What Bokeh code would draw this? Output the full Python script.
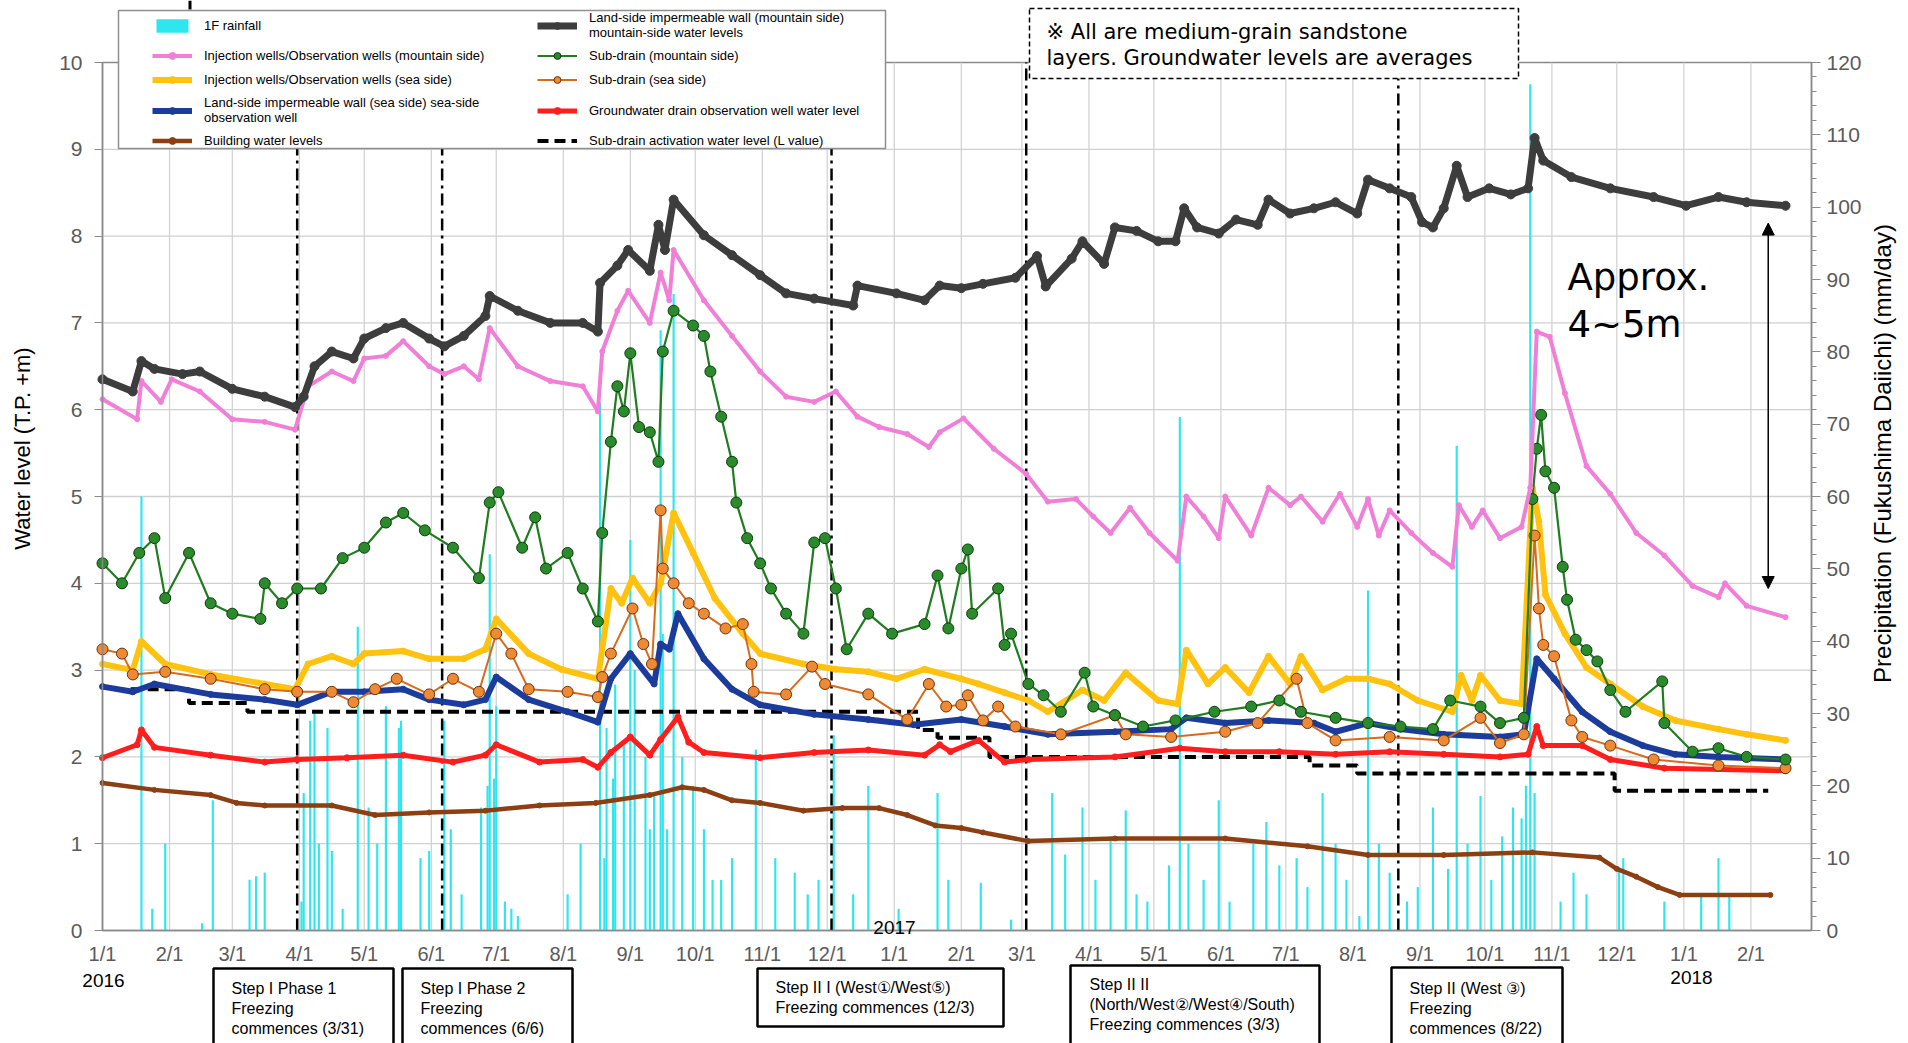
import math
import pandas as pd
from bokeh.plotting import figure
from bokeh.models import (Range1d, LinearAxis, DatetimeAxis, SingleIntervalTicker, FixedTicker,
                          Label, BoxAnnotation, Arrow, NormalHead, Legend, LegendItem)
from bokeh.embed import file_html
from bokeh.resources import INLINE

# ---------------- data ----------------
RAIN_DATES = ["2016-01-19", "2016-01-24", "2016-01-30", "2016-02-16", "2016-02-21", "2016-03-09", "2016-03-12",
              "2016-03-16", "2016-04-02", "2016-04-03", "2016-04-06", "2016-04-08", "2016-04-10", "2016-04-14",
              "2016-04-16", "2016-04-21", "2016-04-28", "2016-05-03", "2016-05-07", "2016-05-11", "2016-05-17",
              "2016-05-18", "2016-05-27", "2016-05-31", "2016-06-07", "2016-06-10", "2016-06-15", "2016-06-24",
              "2016-06-27", "2016-06-28", "2016-06-30", "2016-07-01", "2016-07-05", "2016-07-08", "2016-07-11",
              "2016-08-03", "2016-08-09", "2016-08-18", "2016-08-20", "2016-08-21", "2016-08-24", "2016-08-25",
              "2016-08-29", "2016-09-01", "2016-09-03", "2016-09-08", "2016-09-10", "2016-09-12", "2016-09-15",
              "2016-09-16", "2016-09-18", "2016-09-21", "2016-09-25", "2016-09-30", "2016-10-05", "2016-10-09",
              "2016-10-13", "2016-10-18", "2016-10-29", "2016-11-07", "2016-11-16", "2016-11-22", "2016-11-27",
              "2016-12-04", "2016-12-13", "2016-12-20", "2017-01-03", "2017-01-21", "2017-01-26", "2017-02-10",
              "2017-02-24", "2017-03-15", "2017-03-21", "2017-03-29", "2017-04-04", "2017-04-11", "2017-04-18",
              "2017-04-23", "2017-04-28", "2017-05-08", "2017-05-13", "2017-05-17", "2017-05-24", "2017-05-31",
              "2017-06-05", "2017-06-16", "2017-06-22", "2017-06-28", "2017-07-06", "2017-07-11", "2017-07-18",
              "2017-07-24", "2017-07-29", "2017-08-04", "2017-08-08", "2017-08-13", "2017-08-18", "2017-08-26",
              "2017-08-31", "2017-09-07", "2017-09-14", "2017-09-18", "2017-09-23", "2017-09-29", "2017-10-04",
              "2017-10-09", "2017-10-14", "2017-10-18", "2017-10-20", "2017-10-22", "2017-10-24", "2017-11-05",
              "2017-11-11", "2017-11-17", "2017-12-02", "2017-12-04", "2017-12-23", "2018-01-09", "2018-01-17",
              "2018-01-22"]
RAIN_MM = [60, 3, 12, 1, 18, 7, 7.5, 8, 4, 19, 29, 30, 12, 28, 11, 3, 42, 17, 12, 31, 28, 29, 10, 11, 29, 14, 5,
           17, 20, 52, 21, 31, 4, 3, 2, 5, 12, 73, 10, 28, 21, 34, 26, 54, 36, 24, 14, 19, 83, 41, 14, 88, 24, 20,
           14, 7, 7, 10, 25, 10, 8, 5, 7, 27, 5, 20, 3, 19, 7, 6.6, 1.5, 19, 10.5, 17, 7, 13, 16.6, 5, 4, 9, 71,
           12, 7, 18, 4, 12, 15, 9, 10, 6, 19, 12, 7, 2, 47, 12, 8, 4, 6, 17, 8.5, 67, 12, 18.6, 7, 13, 17, 15.5,
           20, 117, 19, 4, 8, 5, 8.5, 10, 4, 5, 10, 5]

GRAY_DATES = ["2016-01-01", "2016-01-15", "2016-01-19", "2016-01-25", "2016-02-07", "2016-02-15", "2016-03-01",
              "2016-03-16", "2016-03-30", "2016-04-03", "2016-04-08", "2016-04-16", "2016-04-26", "2016-05-01",
              "2016-05-11", "2016-05-19", "2016-05-31", "2016-06-07", "2016-06-16", "2016-06-26", "2016-06-28",
              "2016-07-11", "2016-07-26", "2016-08-10", "2016-08-17", "2016-08-18", "2016-08-26", "2016-08-31",
              "2016-09-10", "2016-09-14", "2016-09-17", "2016-09-21", "2016-10-05", "2016-10-18", "2016-10-31",
              "2016-11-12", "2016-11-25", "2016-12-13", "2016-12-15", "2017-01-02", "2017-01-15", "2017-01-22",
              "2017-02-01", "2017-02-11", "2017-02-26", "2017-03-08", "2017-03-12", "2017-03-24", "2017-03-29",
              "2017-04-08", "2017-04-13", "2017-04-23", "2017-05-03", "2017-05-11", "2017-05-15", "2017-05-21",
              "2017-05-31", "2017-06-08", "2017-06-18", "2017-06-23", "2017-07-03", "2017-07-14", "2017-07-24",
              "2017-08-03", "2017-08-08", "2017-08-18", "2017-08-28", "2017-09-02", "2017-09-07", "2017-09-12",
              "2017-09-18", "2017-09-23", "2017-10-03", "2017-10-13", "2017-10-21", "2017-10-24", "2017-10-28",
              "2017-11-10", "2017-11-28", "2017-12-18", "2018-01-02", "2018-01-17", "2018-01-30", "2018-02-17"]
GRAY = [6.35, 6.21, 6.56, 6.47, 6.41, 6.44, 6.24, 6.15, 6.03, 6.15, 6.50, 6.67, 6.59, 6.82, 6.94, 7.00, 6.82, 6.73,
        6.85, 7.08, 7.31, 7.14, 7.00, 7.00, 6.90, 7.46, 7.66, 7.84, 7.60, 8.13, 7.84, 8.42, 8.01, 7.78, 7.55, 7.34,
        7.28, 7.20, 7.43, 7.34, 7.26, 7.43, 7.40, 7.45, 7.52, 7.77, 7.42, 7.74, 7.94, 7.68, 8.10, 8.06, 7.94, 7.94,
        8.32, 8.10, 8.03, 8.19, 8.13, 8.42, 8.26, 8.32, 8.39, 8.26, 8.65, 8.55, 8.45, 8.16, 8.10, 8.32, 8.81, 8.45,
        8.55, 8.48, 8.55, 9.13, 8.87, 8.68, 8.55, 8.45, 8.35, 8.45, 8.39, 8.35]

PINK_DATES = ["2016-01-01", "2016-01-17", "2016-01-19", "2016-01-28", "2016-02-02", "2016-02-15", "2016-03-01",
              "2016-03-16", "2016-03-30", "2016-04-05", "2016-04-16", "2016-04-26", "2016-05-01", "2016-05-11",
              "2016-05-19", "2016-05-31", "2016-06-07", "2016-06-16", "2016-06-23", "2016-06-28", "2016-07-11",
              "2016-07-26", "2016-08-10", "2016-08-17", "2016-08-19", "2016-08-26", "2016-08-31", "2016-09-10",
              "2016-09-15", "2016-09-19", "2016-09-21", "2016-10-05", "2016-10-18", "2016-10-31", "2016-11-12",
              "2016-11-25", "2016-12-05", "2016-12-15", "2016-12-25", "2017-01-07", "2017-01-17", "2017-01-22",
              "2017-02-02", "2017-02-16", "2017-03-03", "2017-03-13", "2017-03-26", "2017-04-03", "2017-04-11",
              "2017-04-20", "2017-04-29", "2017-05-12", "2017-05-16", "2017-05-24", "2017-05-31", "2017-06-03",
              "2017-06-15", "2017-06-23", "2017-07-03", "2017-07-08", "2017-07-18", "2017-07-26", "2017-08-03",
              "2017-08-08", "2017-08-13", "2017-08-18", "2017-08-28", "2017-09-07", "2017-09-16", "2017-09-19",
              "2017-09-25", "2017-09-30", "2017-10-08", "2017-10-18", "2017-10-22", "2017-10-25", "2017-10-31",
              "2017-11-07", "2017-11-17", "2017-11-28", "2017-12-10", "2017-12-23", "2018-01-05", "2018-01-17",
              "2018-01-20", "2018-01-30", "2018-02-17"]
PINK = [6.12, 5.89, 6.33, 6.09, 6.35, 6.21, 5.89, 5.86, 5.77, 6.27, 6.44, 6.33, 6.59, 6.62, 6.79, 6.50, 6.41, 6.50,
        6.35, 6.94, 6.50, 6.33, 6.27, 5.98, 6.67, 7.14, 7.37, 7.00, 7.58, 7.26, 7.84, 7.26, 6.85, 6.44, 6.15, 6.09,
        6.21, 5.92, 5.80, 5.72, 5.57, 5.74, 5.90, 5.55, 5.26, 4.94, 4.97, 4.77, 4.58, 4.87, 4.58, 4.26, 5.00, 4.77,
        4.52, 5.00, 4.55, 5.10, 4.90, 5.00, 4.71, 5.03, 4.65, 4.97, 4.55, 4.84, 4.58, 4.35, 4.19, 4.90, 4.65, 4.84,
        4.52, 4.65, 5.10, 6.90, 6.84, 6.19, 5.35, 5.03, 4.58, 4.32, 3.97, 3.84, 4.00, 3.74, 3.61]

GREEN_DATES = ["2016-01-01", "2016-01-10", "2016-01-18", "2016-01-25", "2016-01-30", "2016-02-10", "2016-02-20",
               "2016-03-01", "2016-03-14", "2016-03-16", "2016-03-24", "2016-03-31", "2016-04-11", "2016-04-21",
               "2016-05-01", "2016-05-11", "2016-05-19", "2016-05-29", "2016-06-11", "2016-06-23", "2016-06-28",
               "2016-07-02", "2016-07-13", "2016-07-19", "2016-07-24", "2016-08-03", "2016-08-10", "2016-08-17",
               "2016-08-19", "2016-08-23", "2016-08-26", "2016-08-29", "2016-09-01", "2016-09-05", "2016-09-10",
               "2016-09-14", "2016-09-16", "2016-09-21", "2016-09-30", "2016-10-05", "2016-10-08", "2016-10-13",
               "2016-10-18", "2016-10-20", "2016-10-25", "2016-10-31", "2016-11-05", "2016-11-12", "2016-11-20",
               "2016-11-25", "2016-11-30", "2016-12-05", "2016-12-10", "2016-12-20", "2016-12-31", "2017-01-15",
               "2017-01-21", "2017-01-26", "2017-02-01", "2017-02-04", "2017-02-06", "2017-02-18", "2017-02-21",
               "2017-02-24", "2017-03-04", "2017-03-11", "2017-03-19", "2017-03-30", "2017-04-03", "2017-04-13",
               "2017-04-26", "2017-05-11", "2017-05-29", "2017-06-15", "2017-06-28", "2017-07-08", "2017-07-24",
               "2017-08-08", "2017-08-23", "2017-09-07", "2017-09-15", "2017-09-29", "2017-10-08", "2017-10-19",
               "2017-10-23", "2017-10-25", "2017-10-27", "2017-10-29", "2017-11-02", "2017-11-06", "2017-11-08",
               "2017-11-12", "2017-11-17", "2017-11-22", "2017-11-28", "2017-12-05", "2017-12-22", "2017-12-23",
               "2018-01-05", "2018-01-17", "2018-01-30", "2018-02-17"]
GREEN = [4.23, 4.00, 4.35, 4.52, 3.83, 4.35, 3.77, 3.65, 3.59, 4.00, 3.77, 3.94, 3.94, 4.29, 4.41, 4.70, 4.81, 4.61,
         4.41, 4.06, 4.93, 5.05, 4.41, 4.76, 4.17, 4.35, 3.94, 3.56, 4.58, 5.63, 6.27, 5.98, 6.65, 5.80, 5.74, 5.40,
         6.67, 7.14, 6.97, 6.85, 6.44, 5.92, 5.40, 4.93, 4.52, 4.23, 3.94, 3.65, 3.42, 4.47, 4.52, 3.94, 3.24, 3.65,
         3.42, 3.53, 4.09, 3.48, 4.17, 4.39, 3.65, 3.94, 3.29, 3.42, 2.84, 2.71, 2.52, 2.97, 2.58, 2.48, 2.35, 2.42,
         2.52, 2.58, 2.65, 2.52, 2.45, 2.39, 2.35, 2.32, 2.65, 2.58, 2.39, 2.45, 4.97, 5.55, 5.94, 5.29, 5.10, 4.19,
         3.81, 3.35, 3.23, 3.10, 2.77, 2.52, 2.87, 2.39, 2.06, 2.10, 2.00, 1.97]

YELLOW_DATES = ["2016-01-01", "2016-01-15", "2016-01-19", "2016-01-30", "2016-02-20", "2016-03-16", "2016-03-30",
                "2016-04-05", "2016-04-16", "2016-04-26", "2016-05-01", "2016-05-19", "2016-05-31", "2016-06-16",
                "2016-06-26", "2016-07-01", "2016-07-16", "2016-07-31", "2016-08-17", "2016-08-23", "2016-08-28",
                "2016-09-02", "2016-09-10", "2016-09-15", "2016-09-21", "2016-09-30", "2016-10-10", "2016-10-23",
                "2016-10-31", "2016-11-20", "2016-12-05", "2016-12-20", "2017-01-02", "2017-01-15", "2017-02-01",
                "2017-02-09", "2017-02-21", "2017-03-04", "2017-03-13", "2017-03-29", "2017-04-08", "2017-04-18",
                "2017-05-03", "2017-05-12", "2017-05-16", "2017-05-26", "2017-06-03", "2017-06-14", "2017-06-23",
                "2017-07-03", "2017-07-08", "2017-07-18", "2017-07-29", "2017-08-08", "2017-08-18", "2017-08-31",
                "2017-09-16", "2017-09-20", "2017-09-25", "2017-09-29", "2017-10-08", "2017-10-18", "2017-10-23",
                "2017-10-26", "2017-10-29", "2017-11-07", "2017-11-17", "2017-11-28", "2017-12-13", "2017-12-28",
                "2018-01-17", "2018-01-30", "2018-02-17"]
YELLOW = [3.07, 3.00, 3.33, 3.07, 2.95, 2.84, 2.78, 3.07, 3.16, 3.07, 3.19, 3.22, 3.13, 3.13, 3.24, 3.59, 3.19,
          3.01, 2.90, 3.94, 3.77, 4.06, 3.77, 4.00, 4.81, 4.35, 3.83, 3.42, 3.19, 3.07, 3.01, 2.98, 2.90, 3.01,
          2.90, 2.84, 2.74, 2.65, 2.52, 2.77, 2.65, 2.97, 2.65, 2.61, 3.23, 2.84, 3.03, 2.74, 3.16, 2.84, 3.16,
          2.77, 2.90, 2.90, 2.84, 2.65, 2.52, 2.94, 2.65, 2.94, 2.65, 2.61, 5.10, 4.71, 3.87, 3.42, 3.03, 2.84,
          2.58, 2.42, 2.32, 2.26, 2.19]

ORANGE_DATES = ["2016-01-01", "2016-01-10", "2016-01-15", "2016-01-30", "2016-02-20", "2016-03-16", "2016-03-31",
                "2016-04-16", "2016-04-26", "2016-05-06", "2016-05-16", "2016-05-31", "2016-06-11", "2016-06-23",
                "2016-07-01", "2016-07-08", "2016-07-16", "2016-08-03", "2016-08-17", "2016-08-19", "2016-08-23",
                "2016-09-02", "2016-09-07", "2016-09-11", "2016-09-15", "2016-09-16", "2016-09-21", "2016-09-28",
                "2016-10-05", "2016-10-15", "2016-10-23", "2016-10-27", "2016-10-28", "2016-11-12", "2016-11-24",
                "2016-11-30", "2016-12-20", "2017-01-07", "2017-01-17", "2017-01-25", "2017-02-01", "2017-02-04",
                "2017-02-11", "2017-02-18", "2017-02-26", "2017-03-19", "2017-04-13", "2017-04-18", "2017-05-09",
                "2017-06-03", "2017-06-18", "2017-07-06", "2017-07-11", "2017-07-24", "2017-08-18", "2017-09-12",
                "2017-09-29", "2017-10-08", "2017-10-19", "2017-10-24", "2017-10-26", "2017-10-28", "2017-11-02",
                "2017-11-10", "2017-11-15", "2017-11-28", "2017-12-18", "2018-01-17", "2018-02-17"]
ORANGE = [3.24, 3.19, 2.95, 2.98, 2.90, 2.78, 2.75, 2.75, 2.63, 2.78, 2.90, 2.72, 2.90, 2.75, 3.42, 3.19, 2.78,
          2.75, 2.69, 2.92, 3.19, 3.71, 3.30, 3.07, 4.84, 4.17, 4.00, 3.77, 3.65, 3.48, 3.53, 3.07, 2.75, 2.72,
          3.04, 2.84, 2.72, 2.43, 2.84, 2.58, 2.60, 2.71, 2.42, 2.58, 2.35, 2.26, 2.48, 2.26, 2.23, 2.29, 2.39,
          2.90, 2.39, 2.19, 2.23, 2.19, 2.45, 2.16, 2.26, 4.55, 3.71, 3.29, 3.16, 2.42, 2.23, 2.13, 1.97, 1.90, 1.87]

BLUE_DATES = ["2016-01-01", "2016-01-15", "2016-01-25", "2016-02-20", "2016-03-16", "2016-03-31", "2016-04-16",
              "2016-05-01", "2016-05-19", "2016-05-31", "2016-06-16", "2016-06-26", "2016-07-01", "2016-07-16",
              "2016-08-03", "2016-08-17", "2016-08-23", "2016-09-01", "2016-09-12", "2016-09-15", "2016-09-19",
              "2016-09-23", "2016-10-05", "2016-10-18", "2016-10-31", "2016-11-25", "2016-12-20", "2017-01-10",
              "2017-02-01", "2017-02-21", "2017-03-13", "2017-04-13", "2017-05-09", "2017-05-16", "2017-06-03",
              "2017-06-23", "2017-07-14", "2017-07-24", "2017-08-08", "2017-08-23", "2017-09-12", "2017-10-08",
              "2017-10-19", "2017-10-25", "2017-11-02", "2017-11-15", "2017-11-28", "2017-12-13", "2017-12-28",
              "2018-01-17", "2018-02-17"]
BLUE = [2.81, 2.75, 2.84, 2.72, 2.66, 2.60, 2.75, 2.75, 2.78, 2.66, 2.60, 2.66, 2.92, 2.66, 2.52, 2.40, 2.90, 3.19,
        2.84, 3.30, 3.24, 3.65, 3.13, 2.78, 2.60, 2.49, 2.43, 2.37, 2.43, 2.35, 2.26, 2.29, 2.32, 2.45, 2.39, 2.42,
        2.39, 2.29, 2.39, 2.32, 2.26, 2.23, 2.26, 3.13, 2.90, 2.52, 2.29, 2.13, 2.03, 2.00, 1.97]

RED_DATES = ["2016-01-01", "2016-01-17", "2016-01-19", "2016-01-25", "2016-02-20", "2016-03-16", "2016-03-31",
             "2016-04-23", "2016-05-19", "2016-06-11", "2016-06-26", "2016-07-01", "2016-07-21", "2016-08-10",
             "2016-08-17", "2016-08-23", "2016-09-01", "2016-09-10", "2016-09-15", "2016-09-23", "2016-09-28",
             "2016-10-05", "2016-10-31", "2016-11-25", "2016-12-20", "2017-01-15", "2017-01-22", "2017-01-27",
             "2017-02-09", "2017-02-21", "2017-03-04", "2017-04-13", "2017-05-13", "2017-06-03", "2017-06-28",
             "2017-07-24", "2017-08-18", "2017-09-12", "2017-10-08", "2017-10-21", "2017-10-25", "2017-10-28",
             "2017-11-15", "2017-11-28", "2017-12-23", "2018-02-17"]
RED = [1.99, 2.14, 2.31, 2.11, 2.02, 1.94, 1.97, 1.99, 2.02, 1.94, 2.02, 2.14, 1.94, 1.97, 1.88, 2.05, 2.23, 2.02,
       2.20, 2.46, 2.17, 2.05, 1.99, 2.05, 2.08, 2.02, 2.14, 2.06, 2.19, 1.94, 1.97, 2.00, 2.10, 2.06, 2.06, 2.03,
       2.06, 2.03, 2.00, 2.03, 2.35, 2.13, 2.13, 1.97, 1.87, 1.84]

BROWN_DATES = ["2016-01-01", "2016-01-25", "2016-02-20", "2016-03-03", "2016-03-16", "2016-04-16", "2016-05-06",
               "2016-05-31", "2016-06-26", "2016-07-21", "2016-08-16", "2016-09-10", "2016-09-25", "2016-10-05",
               "2016-10-18", "2016-10-31", "2016-11-20", "2016-12-08", "2016-12-25", "2017-01-07", "2017-01-20",
               "2017-02-01", "2017-02-11", "2017-03-04", "2017-04-13", "2017-06-03", "2017-07-11", "2017-08-08",
               "2017-09-12", "2017-10-23", "2017-11-23", "2017-12-01", "2017-12-10", "2017-12-20", "2017-12-30",
               "2018-02-10"]
BROWN = [1.70, 1.62, 1.56, 1.47, 1.44, 1.44, 1.33, 1.36, 1.38, 1.44, 1.47, 1.56, 1.65, 1.62, 1.50, 1.47, 1.38, 1.41,
         1.41, 1.33, 1.21, 1.18, 1.13, 1.03, 1.06, 1.06, 0.97, 0.87, 0.87, 0.90, 0.84, 0.71, 0.62, 0.50, 0.41, 0.41]

LVAL_DATES = ["2016-01-14", "2016-02-10", "2016-03-08", "2017-01-12", "2017-01-21", "2017-02-14", "2017-07-12",
              "2017-08-03", "2017-11-30", "2018-02-09"]
LVAL = [2.78, 2.62, 2.52, 2.31, 2.22, 2.00, 1.90, 1.81, 1.61, 1.61]

FREEZE_DATES = ["2016-03-31", "2016-06-06", "2016-12-03", "2017-03-03", "2017-08-22"]
FREEZE_TEXT = ["Step I Phase 1\nFreezing\ncommences (3/31)",
               "Step I Phase 2\nFreezing\ncommences (6/6)",
               "Step II  I (West\u2460/West\u2464)\nFreezing commences (12/3)",
               "Step II II\n(North/West\u2461/West\u2463/South)\nFreezing commences (3/3)",
               "Step II (West \u2462)\nFreezing\ncommences (8/22)"]

LEVEL_TICKS = list(range(0, 11))
RAIN_TICK_STEP = 10
ARROW_DATE = "2018-02-09"
ARROW_LOW, ARROW_HIGH = 3.94, 8.15
X_START, X_END = "2016-01-01", "2018-03-01"

# ---------------- geometry ----------------
W, H = 1908, 1043
PL, PR, PT, PB = 102, 1811, 62, 930          # plot-area edges in canvas pixels
DAY = 86400000.0


def ms(d):
    return pd.Timestamp(d).value / 1e6


def dts(lst):
    return pd.to_datetime(lst)


x0, x1 = ms(X_START), ms(X_END)
px_per_ms = (PR - PL) / (x1 - x0)
px_per_unit = (PB - PT) / 10.0
xr = Range1d(x0 - PL / px_per_ms, x1 + (W - PR) / px_per_ms)
yr = Range1d(-(H - PB) / px_per_unit, 10 + PT / px_per_unit)

TICKFONT = "'Liberation Sans', Arial, sans-serif"
TEXTFONT = "'Liberation Sans', Arial, sans-serif"

p = figure(width=W, height=H, x_axis_type="datetime", x_range=xr, y_range=yr,
           x_axis_location=None, y_axis_location=None,
           output_backend="svg", toolbar_location=None, title=None,
           min_border_left=0, min_border_right=0, min_border_top=0, min_border_bottom=0)
p.background_fill_color = "white"
p.border_fill_color = "white"
p.outline_line_color = None
p.grid.visible = False
p.extra_y_ranges = {"rain": Range1d(yr.start * 12, yr.end * 12)}

# grid lines (drawn at tick positions)
months = pd.date_range("2016-01-01", "2018-02-01", freq="MS")
month_ticks = [int(m.value // 10**6) for m in months]
p.segment(x0=[x0] * 9, y0=LEVEL_TICKS[1:10], x1=[x1] * 9, y1=LEVEL_TICKS[1:10],
          line_color="#d0d0d0", line_width=1.3)
p.segment(x0=month_ticks[1:], y0=0, x1=month_ticks[1:], y1=10, line_color="#d0d0d0", line_width=1.2)

# axes fixed at the plot-area edges
xax = DatetimeAxis(fixed_location=0, bounds=(x0, x1), ticker=FixedTicker(ticks=month_ticks))
overrides = {}
for m, t in zip(months, month_ticks):
    overrides[t] = f"{m.month}/1"
    overrides[str(t)] = f"{m.month}/1"
xax.major_label_overrides = overrides
xax.major_tick_line_color = None
xax.minor_tick_line_color = None
xax.axis_line_color = "#8a8a8a"
xax.axis_line_width = 1.5
xax.major_label_standoff = 6
xax.major_label_text_font_size = "20px"
xax.major_label_text_color = "#5a5a5a"
xax.major_label_text_font = TICKFONT
p.add_layout(xax, "below")

lax = LinearAxis(fixed_location=x0, bounds=(0, 10), ticker=FixedTicker(ticks=LEVEL_TICKS))
lax.major_tick_out = 8
lax.major_tick_in = 0
lax.minor_tick_line_color = None
lax.axis_line_color = "#8a8a8a"
lax.axis_line_width = 1.5
lax.major_tick_line_color = "#8a8a8a"
lax.major_label_standoff = 12
lax.major_label_text_font_size = "21px"
lax.major_label_text_color = "#5a5a5a"
lax.major_label_text_font = TICKFONT
p.add_layout(lax, "left")

rax = LinearAxis(y_range_name="rain", fixed_location=x1, bounds=(0, 120),
                 ticker=SingleIntervalTicker(interval=RAIN_TICK_STEP, num_minor_ticks=5))
rax.major_tick_out = 9
rax.major_tick_in = 0
rax.minor_tick_out = 5
rax.minor_tick_in = 0
rax.axis_line_color = "#8a8a8a"
rax.axis_line_width = 1.5
rax.major_tick_line_color = "#8a8a8a"
rax.minor_tick_line_color = "#8a8a8a"
rax.major_label_standoff = 6
rax.major_label_text_font_size = "21px"
rax.major_label_text_color = "#5a5a5a"
rax.major_label_text_font = TICKFONT
p.add_layout(rax, "right")

# plot-area border
p.add_layout(BoxAnnotation(left=x0, right=x1, bottom=0, top=10, fill_color=None, fill_alpha=0,
                           line_color="#8a8a8a", line_alpha=1, line_width=1.5, level="underlay"))

# rainfall bars
r_rain = p.vbar(x=dts(RAIN_DATES), top=RAIN_MM, bottom=0, width=DAY * 1.0, y_range_name="rain",
                fill_color="#2ee6f0", line_color=None)

# freezing start lines
fx = [ms(d) for d in FREEZE_DATES]
p.segment(x0=fx, y0=0, x1=fx, y1=10, line_color="black", line_width=2.5, line_dash="12 5 3 5")

# L value
r_l = p.step(dts(LVAL_DATES), LVAL, mode="after", line_color="black", line_width=4, line_dash="11 6")


def series(dates, vals, color, lw, msize, fill=None, outline=None):
    x = dts(dates)
    r1 = p.line(x, vals, line_color=color, line_width=lw)
    r2 = p.scatter(x, vals, size=msize, fill_color=fill or color, line_color=outline or color, line_width=1)
    return [r1, r2]


r_brown = series(BROWN_DATES, BROWN, "#8b3f12", 4.5, 5)
r_red = series(RED_DATES, RED, "#ff1e1e", 5, 6)
r_yellow = series(YELLOW_DATES, YELLOW, "#ffc20e", 6, 6)
r_blue = series(BLUE_DATES, BLUE, "#1c3c9c", 6, 6)
r_orange = series(ORANGE_DATES, ORANGE, "#d86a1c", 2, 11, fill="#ee8a33", outline="#6e3208")
r_green = series(GREEN_DATES, GREEN, "#1f7d1f", 2.2, 11, fill="#2b8a2b", outline="#0c3d0c")
r_pink = series(PINK_DATES, PINK, "#f07fd8", 4, 5)
r_gray = series(GRAY_DATES, GRAY, "#3d3d3d", 7, 9)

# small mark above the legend (cut-off element in the reference)
p.add_layout(BoxAnnotation(left=188, right=191, top=H, bottom=H - 9, left_units="screen",
                           right_units="screen", top_units="screen", bottom_units="screen",
                           fill_color="black", fill_alpha=1, line_color=None))

# legend (border drawn separately)
p.add_layout(BoxAnnotation(left=118, right=885, top=H - 10, bottom=H - 148, left_units="screen",
                           right_units="screen", top_units="screen", bottom_units="screen",
                           fill_color="white", fill_alpha=1, line_color="#8f8f8f", line_alpha=1,
                           line_width=1.5))
items = [
    LegendItem(label="1F rainfall", renderers=[r_rain]),
    LegendItem(label="Injection wells/Observation wells (mountain side)", renderers=r_pink),
    LegendItem(label="Injection wells/Observation wells (sea side)", renderers=r_yellow),
    LegendItem(label="Land-side impermeable wall (sea side) sea-side\nobservation well", renderers=r_blue),
    LegendItem(label="Building water levels", renderers=r_brown),
    LegendItem(label="Land-side impermeable wall (mountain side)\nmountain-side water levels", renderers=r_gray),
    LegendItem(label="Sub-drain (mountain side)", renderers=r_green),
    LegendItem(label="Sub-drain (sea side)", renderers=r_orange),
    LegendItem(label="Groundwater drain observation well water level", renderers=r_red),
    LegendItem(label="Sub-drain activation water level (L value)", renderers=[r_l]),
]
legend = Legend(items=items, location=(152, H - 149), ncols=2, orientation="vertical",
                label_text_font=TEXTFONT, label_text_font_size="13px", label_text_color="black",
                label_text_line_height=1.15,
                glyph_width=40, glyph_height=17, label_height=16, label_width=326, label_standoff=12,
                spacing=7, padding=6, margin=0,
                border_line_color=None, background_fill_alpha=0)
p.add_layout(legend)

# axis titles
p.add_layout(Label(x=22, y=H - 448, x_units="screen", y_units="screen", text="Water level (T.P. +m)",
                   angle=math.pi / 2, text_align="center", text_baseline="middle",
                   text_font=TEXTFONT, text_font_size="22px", text_color="black"))
p.add_layout(Label(x=1882, y=H - 453, x_units="screen", y_units="screen",
                   text="Precipitation (Fukushima Daiichi) (mm/day)",
                   angle=math.pi / 2, text_align="center", text_baseline="middle",
                   text_font=TEXTFONT, text_font_size="24px", text_color="black"))

# year labels
for txt, X, Y in [("2016", 103, 980), ("2017", 894, 927), ("2018", 1691, 977)]:
    p.add_layout(Label(x=X, y=H - Y, x_units="screen", y_units="screen", text=txt,
                       text_align="center", text_baseline="middle",
                       text_font=TEXTFONT, text_font_size="19px", text_color="black"))

# freezing boxes
BOX_LEFT = [213, 402, 757, 1070, 1391]
BOX_RIGHT = [393, 572, 1003, 1319, 1562]
BOX_TOP = [968, 968, 968, 965, 967]
BOX_BOTTOM = [1050, 1050, 1026, 1050, 1050]
TEXT_LEFT = [231, 420, 775, 1089, 1409]
TEXT_TOP = [979, 979, 978, 975, 979]
for t, l, r, tp, bt, tl, tt in zip(FREEZE_TEXT, BOX_LEFT, BOX_RIGHT, BOX_TOP, BOX_BOTTOM, TEXT_LEFT, TEXT_TOP):
    p.add_layout(BoxAnnotation(left=l, right=r, top=H - tp, bottom=H - bt, left_units="screen",
                               right_units="screen", top_units="screen", bottom_units="screen",
                               fill_color="white", fill_alpha=1, line_color="black", line_alpha=1,
                               line_width=2.5))
    p.add_layout(Label(x=tl, y=H - tt, x_units="screen", y_units="screen", text=t,
                       text_align="left", text_baseline="top", text_line_height=1.2,
                       text_font=TEXTFONT, text_font_size="16px", text_color="black"))

# note box
p.add_layout(BoxAnnotation(left=1029, right=1518, top=H - 8, bottom=H - 78, left_units="screen",
                           right_units="screen", top_units="screen", bottom_units="screen",
                           fill_color="white", fill_alpha=1, line_color="black", line_alpha=1,
                           line_width=1.5, line_dash="5 3"))
p.add_layout(Label(x=1046, y=H - 19, x_units="screen", y_units="screen",
                   text="\u203b  All are medium-grain sandstone\nlayers. Groundwater levels are averages",
                   text_align="left", text_baseline="top", text_line_height=1.1,
                   text_font="'DejaVu Sans', 'Noto Sans CJK JP', sans-serif", text_font_size="21px",
                   text_color="black"))

# approx arrow and text
p.add_layout(Arrow(x_start=ms(ARROW_DATE), y_start=ARROW_LOW, x_end=ms(ARROW_DATE), y_end=ARROW_HIGH,
                   start=NormalHead(size=12, fill_color="black", line_color="black"),
                   end=NormalHead(size=12, fill_color="black", line_color="black"),
                   line_color="black", line_width=1.5))
p.add_layout(Label(x=1567, y=H - 277, x_units="screen", y_units="screen", text="Approx.",
                   text_align="left", text_baseline="middle",
                   text_font="'DejaVu Sans', sans-serif", text_font_size="37px", text_color="black"))
p.add_layout(Label(x=1567, y=H - 324, x_units="screen", y_units="screen", text="4~5m",
                   text_align="left", text_baseline="middle",
                   text_font="'DejaVu Sans', sans-serif", text_font_size="37px", text_color="black"))

open("out.html", "w").write(file_html(p, INLINE))
